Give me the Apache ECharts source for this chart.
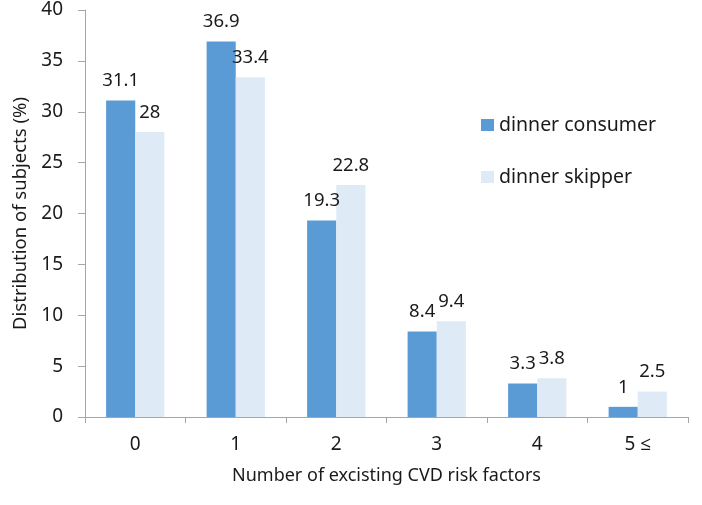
<!DOCTYPE html>
<html>
<head>
<meta charset="utf-8">
<script src="https://cdn.jsdelivr.net/npm/echarts@6/dist/echarts.min.js"></script>
<style>html,body{margin:0;padding:0;background:#fff}#c{width:702px;height:505px}</style>
</head>
<body>
<div id="c"></div>
<script>
const categories = ['0', '1', '2', '3', '4', '5 ≤'];
const consumer = [31.1, 36.9, 19.3, 8.4, 3.3, 1];
const skipper = [28, 33.4, 22.8, 9.4, 3.8, 2.5];
const seriesNames = ['dinner consumer', 'dinner skipper'];
const xTitle = 'Number of excisting CVD risk factors';
const yTitle = 'Distribution of subjects (%)';

const font = '"Noto Sans", "Open Sans", sans-serif';
const chart = echarts.init(document.getElementById('c'), null, {renderer: 'canvas'});
const labelStyle = {show: true, position: 'top', distance: 10, fontSize: 18.5, color: '#1a1a1a', fontFamily: font};
chart.setOption({
  animation: false,
  grid: {left: 85, right: 14, top: 10, bottom: 88},
  legend: {
    orient: 'vertical', left: 481, top: 115, padding: 0,
    itemWidth: 13, itemHeight: 12, itemGap: 32,
    textStyle: {fontSize: 19.5, color: '#1a1a1a', fontFamily: font},
    icon: 'rect',
    data: seriesNames
  },
  xAxis: {
    type: 'category', data: categories,
    name: xTitle, nameLocation: 'middle', nameGap: 50,
    nameTextStyle: {fontSize: 18, color: '#1a1a1a', fontFamily: font},
    axisLine: {lineStyle: {color: '#a6a6a6', width: 1}},
    axisTick: {show: true, length: 6, lineStyle: {color: '#a6a6a6'}},
    axisLabel: {fontSize: 19, color: '#1a1a1a', margin: 18, fontFamily: font}
  },
  yAxis: {
    type: 'value', min: 0, max: 40, interval: 5,
    name: yTitle, nameLocation: 'middle', nameGap: 54, nameRotate: 90,
    nameTextStyle: {fontSize: 18.5, color: '#1a1a1a', fontFamily: font},
    axisLine: {show: true, lineStyle: {color: '#a6a6a6', width: 1}},
    axisTick: {show: true, length: 7, lineStyle: {color: '#a6a6a6'}},
    splitLine: {show: false},
    axisLabel: {fontSize: 19, color: '#1a1a1a', margin: 22, fontFamily: font}
  },
  series: [
    {name: seriesNames[0], type: 'bar', data: consumer, barGap: '0%', barCategoryGap: '42%',
     itemStyle: {color: '#5b9bd5'}, label: labelStyle},
    {name: seriesNames[1], type: 'bar', data: skipper, barGap: '0%', barCategoryGap: '42%',
     itemStyle: {color: '#deebf7'}, label: labelStyle}
  ]
});
</script>
</body>
</html>
